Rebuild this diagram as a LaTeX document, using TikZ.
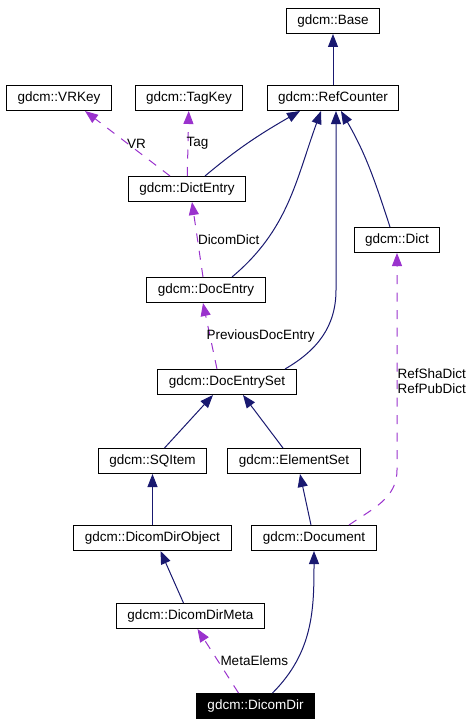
\documentclass[tikz,border=0pt]{standalone}
\usepackage{fontspec}
\setmainfont{Liberation Sans}
\usetikzlibrary{positioning}
\usetikzlibrary{arrows.meta}

\definecolor{inhblue}{RGB}{25,25,112}
\definecolor{usepurple}{RGB}{154,50,205}

\begin{document}
\begin{tikzpicture}[x=1pt,y=1pt,node distance=77pt,on grid,
    >={Triangle[length=13pt,width=10pt]},
    cls/.style={draw,line width=1pt,minimum height=25pt,inner xsep=11pt,font=\fontsize{13.5}{15.5}\selectfont},
    self/.style={cls,fill=black,text=white},
    inh/.style={->,draw=inhblue,line width=1pt},
    uses/.style={->,draw=usepurple,line width=1pt,dash pattern=on 9pt off 8.5pt},
    lbl/.style={inner sep=0pt,font=\fontsize{13.5}{15}\selectfont}]
  \useasboundingbox (0,0) rectangle (471,-725);

  \node[cls] (base) at (333,-21) {gdcm::Base};
  \node[cls] (refcounter) [below=of base] {gdcm::RefCounter};
  \node[cls] (tagkey) [left=144pt of refcounter] {gdcm::TagKey};
  \node[cls] (vrkey) [left=130pt of tagkey] {gdcm::VRKey};
  \node[cls] (dictentry) [below left=91pt and 2pt of tagkey] {gdcm::DictEntry};
  \node[cls] (dict) [below right=142pt and 64pt of refcounter] {gdcm::Dict};
  \node[cls] (docentry) [below right=101pt and 19pt of dictentry] {gdcm::DocEntry};
  \node[cls] (docentryset) [below right=92pt and 21pt of docentry] {gdcm::DocEntrySet};
  \node[cls] (sqitem) [below left=79pt and 74.5pt of docentryset] {gdcm::SQItem};
  \node[cls] (elementset) [below right=79pt and 67pt of docentryset] {gdcm::ElementSet};
  \node[cls] (dicomdirobject) [below=of sqitem] {gdcm::DicomDirObject};
  \node[cls] (document) [below right=77pt and 20pt of elementset] {gdcm::Document};
  \node[cls] (dicomdirmeta) [below right=78pt and 38pt of dicomdirobject] {gdcm::DicomDirMeta};
  \node[self] (dicomdir) [below right=90pt and 65pt of dicomdirmeta] {gdcm::DicomDir};

  \coordinate[below right=192pt and 3pt of refcounter] (refbend);
  \coordinate[below=230pt of dict] (dictbend);

  % inheritance
  \path
    (refcounter) edge[inh] (base)
    ([xshift=18pt]dictentry.north) edge[inh,out=40,in=-150] ([xshift=-33pt]refcounter.south)
    ([xshift=26pt]docentry.north) edge[inh,out=40,in=-110] ([xshift=-12pt]refcounter.south)
    ([xshift=-7pt]dict.north) edge[inh,out=108,in=-60] ([xshift=8pt]refcounter.south)
    ([xshift=12pt]sqitem.north) edge[inh] ([xshift=-14pt]docentryset.south)
    ([xshift=-11pt]elementset.north) edge[inh] ([xshift=16pt]docentryset.south)
    (dicomdirobject) edge[inh] (sqitem)
    ([xshift=-3pt]document.north) edge[inh] ([xshift=6pt]elementset.south)
    ([xshift=-7pt]dicomdirmeta.north) edge[inh] ([xshift=8pt]dicomdirobject.south)
    ([xshift=17pt]dicomdir.north) edge[inh,out=45,in=-90] (document.south);
  \draw[inh] ([xshift=58pt]docentryset.north) to[out=30,in=-90] (refbend) -- ([xshift=3pt]refcounter.south);

  % usage
  \path
    ([xshift=-17pt]dictentry.north) edge[uses] node[lbl,pos=.5,xshift=9pt] {VR} ([xshift=26pt]vrkey.south)
    (dictentry) edge[uses] node[lbl,pos=.5,anchor=west,xshift=-2pt] {Tag} (tagkey)
    ([xshift=-3pt]docentry.north) edge[uses] node[lbl,pos=.5,anchor=west] {DicomDict} ([xshift=5pt]dictentry.south)
    ([xshift=-10pt]docentryset.north) edge[uses] node[lbl,pos=.5,anchor=west,xshift=-4pt] {PreviousDocEntry} ([xshift=-3pt]docentry.south)
    ([xshift=-17pt]dicomdir.north) edge[uses] node[lbl,pos=.5,anchor=west,xshift=2pt] {MetaElems} ([xshift=7pt]dicomdirmeta.south);
  \draw[uses] ([xshift=35pt]document.north) to[out=35,in=-90] (dictbend)
    -- node[lbl,pos=.41,anchor=west,align=left] {RefShaDict\\RefPubDict} (dict.south);
\end{tikzpicture}
\end{document}
